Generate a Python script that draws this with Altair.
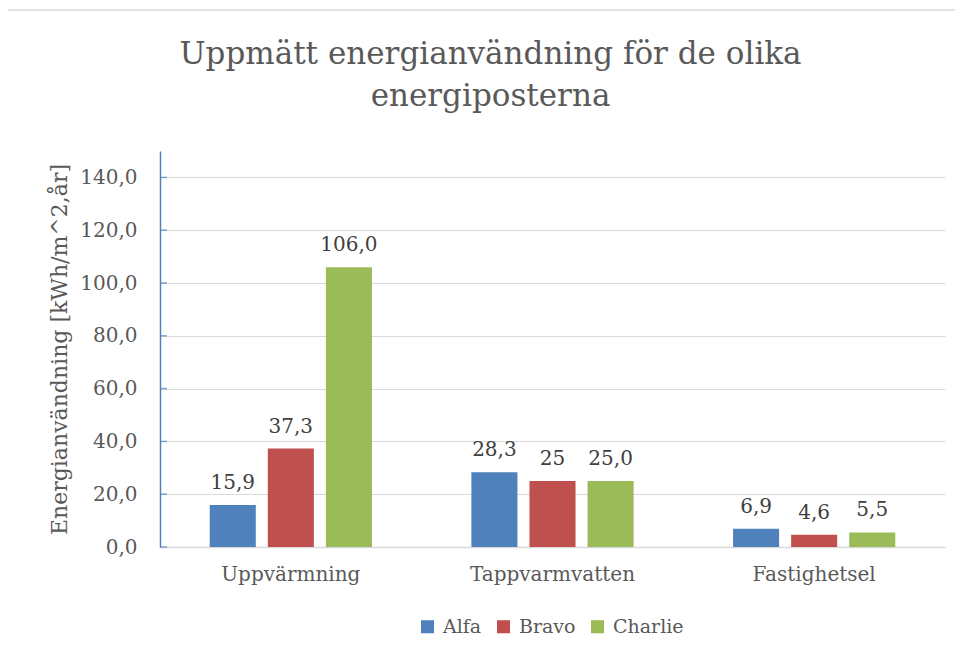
import altair as alt
import pandas as pd

categories = ["Uppvärmning", "Tappvarmvatten", "Fastighetsel"]
series = ["Alfa", "Bravo", "Charlie"]
alfa = [15.9, 28.3, 6.9]
bravo = [37.3, 25.0, 4.6]
charlie = [106.0, 25.0, 5.5]
alfa_labels = ["15,9", "28,3", "6,9"]
bravo_labels = ["37,3", "25", "4,6"]
charlie_labels = ["106,0", "25,0", "5,5"]
colors = ["#4F81BD", "#C0504D", "#9BBB59"]
y_ticks = [0, 20, 40, 60, 80, 100, 120, 140]

rows = []
for s, vals, labs in zip(series, [alfa, bravo, charlie], [alfa_labels, bravo_labels, charlie_labels]):
    for c, v, l in zip(categories, vals, labs):
        rows.append({"kategori": c, "serie": s, "varde": v, "etikett": l})
df = pd.DataFrame(rows)

FONT = "DejaVu Serif"
GRAY = "#595959"

yscale = alt.Scale(domain=[0, 150], nice=False)
xscale = alt.Scale(domain=categories, paddingInner=0.38, paddingOuter=0.19)
offscale = alt.Scale(domain=series, paddingInner=0.207, paddingOuter=0)

base = alt.Chart(df).encode(
    x=alt.X("kategori:N", scale=xscale, sort=categories,
            axis=alt.Axis(title=None, labelAngle=0, ticks=False, tickSize=0,
                          labelPadding=17, labelFont=FONT, labelFontSize=20,
                          labelColor=GRAY, domainColor="#D9D9D9", domainWidth=1.5)),
    xOffset=alt.XOffset("serie:N", scale=offscale, sort=series),
    y=alt.Y("varde:Q", scale=yscale,
            axis=alt.Axis(title="Energianvändning [kWh/m^2,år]", values=y_ticks,
                          labelExpr="replace(format(datum.value, '.1f'), '.', ',')",
                          ticks=False, tickSize=0, labelPadding=23,
                          labelFont=FONT, labelFontSize=20, labelColor=GRAY,
                          titleFont=FONT, titleFontSize=22, titleColor=GRAY,
                          titleFontWeight="normal", titlePadding=8,
                          domainColor="#4F81BD", domainWidth=1.5,
                          grid=True, gridColor="#D9D9D9", gridWidth=1.2)),
)

bars = base.mark_bar().encode(
    color=alt.Color("serie:N", scale=alt.Scale(domain=series, range=colors),
                    legend=alt.Legend(title=None, orient="none", direction="horizontal",
                                      legendX=258, legendY=466, padding=0,
                                      symbolType="square", symbolSize=170,
                                      symbolStrokeWidth=0, labelFont=FONT,
                                      labelFontSize=19, labelColor=GRAY,
                                      labelOffset=6, columnPadding=12))
)

texts = base.mark_text(baseline="alphabetic", dy=-16, font=FONT, fontSize=20,
                       color="#404040").encode(text="etikett:N")

tickdf = pd.DataFrame({"v": y_ticks})
ticks = alt.Chart(tickdf).mark_tick(orient="horizontal", thickness=1.5, size=7,
                                    color="#4F81BD").encode(
    y=alt.Y("v:Q", scale=yscale), x=alt.value(3.5))

frame = alt.Chart(pd.DataFrame({"a": [0]})).mark_rect(
    fill=None, stroke="#D9D9D9", strokeWidth=1.5).encode(
    x=alt.value(-153), y=alt.value(-141), x2=alt.value(1200), y2=alt.value(1200))

chart = alt.layer(frame, bars, texts, ticks).properties(
    width=785, height=396,
    autosize=alt.AutoSizeParams(type="none"),
    padding={"left": 152, "top": 143, "right": 10, "bottom": 106},
    title=alt.TitleParams(["Uppmätt energianvändning för de olika", "energiposterna"],
                          font=FONT, fontSize=31, fontWeight="normal", color=GRAY,
                          anchor="middle", dx=-62, offset=0, dy=104, lineHeight=42),
).configure_view(stroke=None).resolve_scale(y="shared")

chart.save("out.html", embed_options={"renderer": "svg", "actions": False})
